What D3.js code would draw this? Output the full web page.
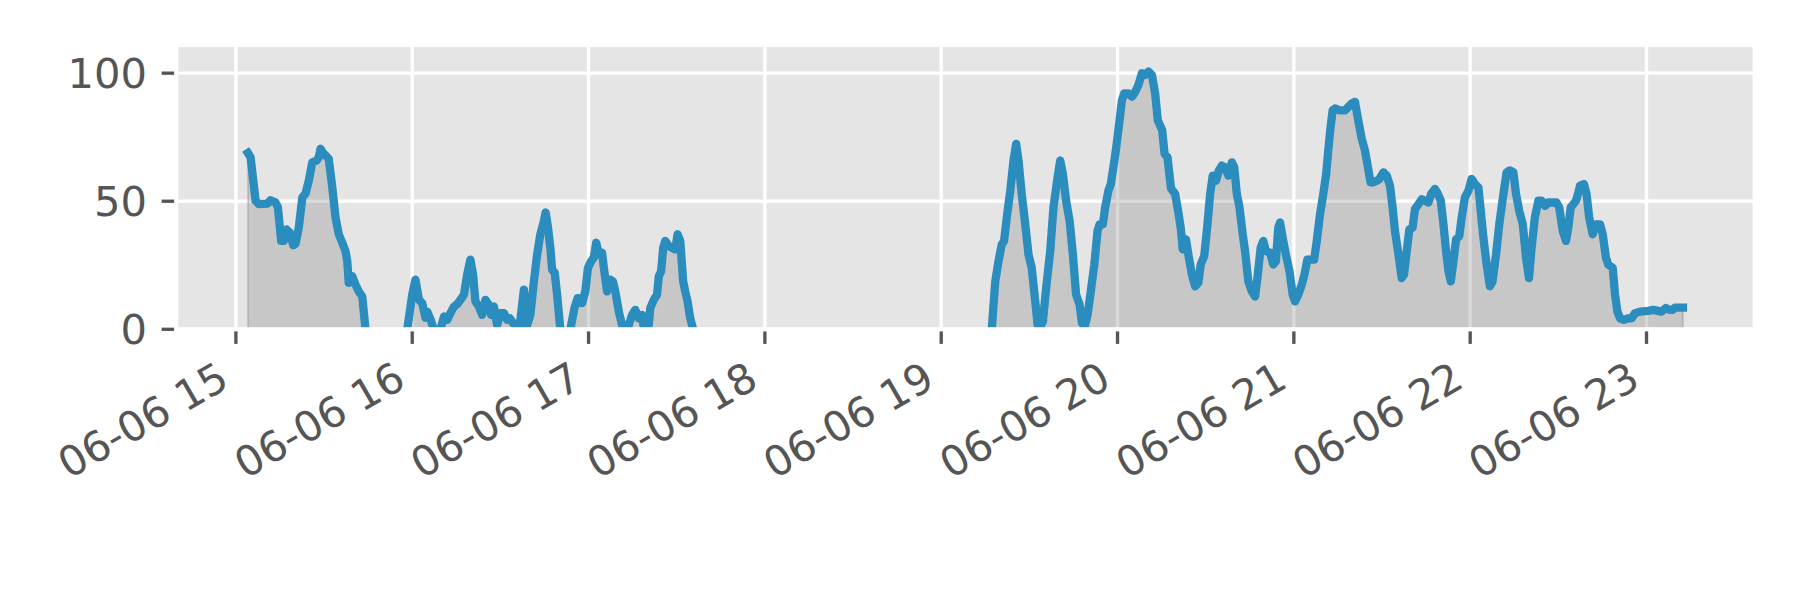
<!DOCTYPE html>
<html><head><meta charset="utf-8">
<script src="https://cdn.jsdelivr.net/npm/d3@7"></script>
<style>body{margin:0;background:#fff} svg{display:block}</style>
</head><body>
<svg id="chart" width="1800" height="600"></svg>
<script>
// Start of the time axis; sample times are minutes after it (null value = no data)
const startTime = "2019-06-06T15:00:00";
const minutes = [
  4.1, 5.0, 6.7, 7.8, 10.7, 11.8, 13.5, 14.3, 15.4, 16.3, 17.2, 18.4, 19.5, 20.3, 21.4, 22.6, 23.7, 24.8, 26.0, 27.5,
  28.2, 28.8, 29.7, 30.5, 31.6, 32.8, 33.9, 35.0, 36.2, 37.3, 37.9, 38.4, 39.6, 40.7, 41.8, 43.0, 44.1,
  51.0,
  58.3, 60.0, 61.1, 62.3, 63.4, 64.5, 65.1, 66.2, 67.3,
  68.5,
  69.6, 70.8, 71.9, 73.0, 74.2, 75.3, 76.4, 77.6, 78.7, 79.8, 80.7, 81.5, 82.7, 83.8, 84.9, 86.1, 86.9, 87.8, 88.9, 90.0,
  91.2, 92.3, 93.2, 94.3, 95.7, 96.6, 98.0, 99.1, 100.2, 101.4, 102.5, 103.6, 104.8, 105.4, 106.2, 107.0, 107.6, 108.5, 109.3, 110.4,
  112.0,
  113.8, 115.2, 116.3, 117.8, 118.9, 119.8, 120.9, 121.8, 122.6, 123.5, 124.6, 125.2, 126.3, 127.4, 128.3, 129.1, 130.3, 131.4, 132.3,
  132.7,
  133.2, 133.7, 134.8, 135.9, 137.1, 138.2, 138.9,
  139.3,
  139.8, 140.5, 141.0, 142.2, 143.3, 143.9, 144.7, 145.4, 146.1, 147.3, 148.4, 149.5, 150.3, 151.2, 152.2, 152.9, 153.7, 154.6, 155.6,
  200.0,
  257.2, 258.4, 259.5, 260.6, 261.4, 262.3, 263.5, 264.6, 265.5, 266.3, 267.4, 268.6, 269.7, 270.8, 272.0, 272.8, 273.7, 274.6, 275.7,
  277.1, 278.2, 279.6, 280.5, 281.4, 282.5, 283.7, 284.8, 285.9, 287.1, 287.9, 288.8, 289.8, 290.9, 292.1, 293.2, 293.9, 295.0, 295.8,
  296.9, 297.7, 298.6, 299.5, 300.7, 301.5, 302.3, 303.7, 304.9, 306.0, 307.1, 308.3, 309.4, 310.5, 311.7, 312.8, 313.7, 315.2, 316.0,
  317.0, 318.2, 319.6, 320.7, 321.5, 322.2, 323.3, 324.1, 325.3, 326.4, 327.5, 328.3, 329.5, 330.6, 331.5, 332.4, 333.5, 334.5, 335.5,
  336.6, 337.7, 338.9, 339.7, 340.6, 341.5, 342.6, 343.4, 344.5, 345.7, 346.8, 347.6, 348.7, 349.6, 350.5, 351.9, 353.0, 353.9, 354.7,
  355.3, 356.2, 357.3, 358.5, 359.6, 360.4, 361.5, 362.7, 363.6, 364.6, 366.9, 367.8, 368.9, 370.0, 371.0, 371.7, 372.5, 373.2, 374.0,
  375.7, 377.4, 378.6, 379.7, 380.8, 382.0, 383.1, 384.2, 385.4, 386.1, 387.1, 388.2, 389.1, 390.5, 391.6, 392.7, 393.6, 394.4, 395.6,
  396.7, 397.5, 398.4, 399.3, 400.4, 401.2, 402.4, 403.5, 404.6, 405.8, 406.7, 408.0, 408.8, 410.0, 410.9, 411.8, 412.6, 413.4, 414.3,
  415.2, 416.3, 417.1, 418.2, 419.4, 420.5, 421.6, 422.8, 423.6, 424.5, 425.6, 426.7, 427.6, 428.8, 429.9, 431.3, 432.4, 433.5, 434.7,
  435.6, 436.7, 437.9, 439.0, 440.0, 440.9, 442.0, 443.2, 444.3, 445.5, 446.6, 449.4, 450.3, 451.5, 452.6, 453.4, 454.2, 455.1, 456.0,
  456.8, 457.4, 458.7, 459.6, 460.5, 461.7, 462.8, 464.2, 465.1, 466.2, 467.0, 468.5, 469.3, 470.1, 471.0, 472.3, 473.8, 474.9, 476.1,
  477.8, 480.6, 482.3, 484.0, 485.1, 486.6, 487.8, 488.9, 489.7, 492.4
];
const values = [
  68.8, 67.2, 50.2, 48.9, 49.1, 50.4, 49.5, 47.6, 34.5, 34.5, 39.0, 37.7, 32.8, 33.4, 39.7, 51.5, 53.0, 58.0, 65.2, 65.9,
  67.2, 70.5, 68.8, 67.9, 66.5, 55.4, 43.6, 37.1, 33.8, 30.5, 26.6, 18.1, 20.7, 17.4, 14.8, 12.8, 0,
  null,
  0, 13.5, 19.4, 11.5, 10.2, 4.5, 6.9, 4.0, 0,
  null,
  0, 5.0, 3.7, 6.3, 8.9, 9.8, 11.5, 13.5, 21.4, 27.2, 21.4, 10.9, 8.9, 5.6, 11.5, 9.5, 5.6, 8.9, 1.7, 6.3,
  6.3, 3.7, 4.3, 2.4, 1.7, 1.7, 15.5, 1.7, 5.6, 18.7, 29.2, 37.1, 42.3, 45.6, 39.7, 31.8, 23.3, 22.0, 13.5, 0,
  null,
  0, 8.3, 12.2, 10.2, 14.8, 24.0, 26.6, 28.0, 33.8, 29.2, 29.9, 24.0, 14.8, 19.4, 18.7, 14.8, 6.9, 1.7, 0,
  null,
  0, 1.7, 5.6, 7.6, 4.3, 5.6, 0,
  null,
  0, 1.7, 8.3, 11.5, 13.5, 20.7, 22.7, 31.8, 34.5, 32.5, 31.8, 31.2, 37.1, 34.5, 18.7, 14.8, 10.9, 4.3, 0,
  null,
  0, 18.7, 26.6, 33.1, 34.5, 43.6, 54.1, 65.9, 72.4, 65.9, 52.8, 41.0, 29.2, 24.0, 10.9, 1.7, 1.0, 3.0, 16.1,
  30.5, 47.6, 59.3, 65.9, 60.7, 50.2, 42.3, 29.2, 13.5, 9.6, 2.4, 1.0, 5.6, 14.8, 25.3, 38.4, 41.0, 41.0, 47.6,
  54.1, 56.7, 63.3, 70.5, 81.6, 89.5, 92.1, 92.1, 90.8, 92.7, 95.4, 100.0, 99.3, 100.6, 99.3, 92.1, 81.6, 77.7, 68.5,
  67.2, 55.0, 52.8, 45.6, 39.7, 31.2, 35.1, 29.2, 21.4, 16.8, 18.1, 25.3, 28.6, 41.0, 52.8, 60.0, 58.0, 62.0, 63.9,
  63.3, 60.0, 65.2, 63.3, 52.8, 47.6, 37.1, 30.5, 18.7, 14.8, 12.8, 20.0, 31.8, 34.5, 30.5, 29.9, 25.3, 26.6, 39.7,
  41.7, 35.8, 29.2, 22.7, 13.5, 10.9, 13.5, 17.4, 21.4, 27.2, 27.2, 34.5, 44.9, 52.8, 60.7, 69.8, 79.0, 85.5, 86.2,
  85.5, 85.5, 86.9, 88.2, 88.8, 81.0, 74.4, 69.8, 62.0, 57.4, 57.4, 58.0, 58.7, 61.3, 60.0, 56.1, 47.6, 38.4, 29.2,
  20.0, 21.4, 30.5, 39.0, 39.7, 46.9, 48.9, 50.8, 50.2, 49.5, 52.8, 54.8, 53.4, 50.2, 41.0, 30.5, 22.7, 18.7, 26.6,
  35.1, 36.4, 43.6, 51.5, 54.1, 58.7, 56.7, 55.4, 46.2, 35.8, 25.3, 16.8, 18.7, 29.2, 41.0, 52.8, 61.3, 62.0, 61.3,
  52.8, 46.2, 41.0, 27.9, 20.0, 31.8, 43.6, 50.2, 50.2, 48.2, 49.5, 49.5, 47.6, 38.4, 34.5, 39.7, 47.6, 48.9, 50.2,
  53.4, 56.1, 56.7, 52.8, 43.6, 37.1, 41.0, 41.0, 37.1, 27.9, 25.3, 24.0, 13.5, 6.9, 4.3, 3.7, 4.3, 4.3, 6.3,
  6.9, 7.2, 7.6, 7.2, 6.9, 8.3, 7.6, 7.6, 8.5, 8.5
];
const yTickValues = [0, 50, 100];
const yMax = 111;
const xTickFormat = "%m-%d %H";

const W = 1800, H = 600;
const plot = {left: 176.2, right: 1754.7, top: 45, bottom: 329.3};
const FS = 41.67;             // 10pt at 300 dpi
const TICK = 14.58, PAD = 14.58;
const textColor = "#555555";

const t0 = new Date(startTime);
const data = minutes.map((m, i) => ({t: new Date(t0.getTime() + m * 60000), v: values[i]}));
const defined = data.filter(d => d.v !== null);
const [tMin, tMax] = d3.extent(defined, d => d.t);
const span = tMax - tMin;
const x = d3.scaleTime()
  .domain([new Date(+tMin - 0.05 * span), new Date(+tMax + 0.05 * span)])
  .range([plot.left, plot.right]);
const y = d3.scaleLinear().domain([0, yMax]).range([plot.bottom, plot.top]);

const svg = d3.select("#chart");
svg.append("rect").attr("width", W).attr("height", H).attr("fill", "#ffffff");

svg.append("defs").append("clipPath").attr("id", "clip")
  .append("rect").attr("x", plot.left).attr("y", plot.top)
  .attr("width", plot.right - plot.left).attr("height", plot.bottom - plot.top);

svg.append("rect").attr("x", plot.left).attr("y", plot.top)
  .attr("width", plot.right - plot.left).attr("height", plot.bottom - plot.top)
  .attr("fill", "#E5E5E5");

const xTicks = x.ticks(d3.timeHour.every(1));
const grid = svg.append("g").attr("stroke", "#ffffff").attr("stroke-width", 3.33);
grid.selectAll(".gx").data(xTicks).join("line")
  .attr("x1", d => x(d)).attr("x2", d => x(d)).attr("y1", plot.top).attr("y2", plot.bottom);
grid.selectAll(".gy").data(yTickValues).join("line")
  .attr("x1", plot.left).attr("x2", plot.right).attr("y1", d => y(d)).attr("y2", d => y(d));

const g = svg.append("g").attr("clip-path", "url(#clip)");
const area = d3.area().defined(d => d.v !== null).x(d => x(d.t)).y0(y(0)).y1(d => y(d.v));
g.append("path").datum(data).attr("d", area)
  .attr("fill", "#808080").attr("fill-opacity", 0.3)
  .attr("stroke", "#808080").attr("stroke-opacity", 0.3).attr("stroke-width", 2.08);
const line = d3.line().defined(d => d.v !== null).x(d => x(d.t)).y(d => y(d.v));
g.append("path").datum(data).attr("d", line)
  .attr("fill", "none").attr("stroke", "#2b8cbe").attr("stroke-width", 8.3)
  .attr("stroke-linejoin", "round").attr("stroke-linecap", "square");

// ticks
const ticks = svg.append("g").attr("stroke", textColor).attr("stroke-width", 3.33);
ticks.selectAll(".tx").data(xTicks).join("line")
  .attr("x1", d => x(d)).attr("x2", d => x(d)).attr("y1", plot.bottom).attr("y2", plot.bottom + TICK);
ticks.selectAll(".ty").data(yTickValues).join("line")
  .attr("x1", plot.left - TICK).attr("x2", plot.left).attr("y1", d => y(d)).attr("y2", d => y(d));

// white spines (ggplot style)
svg.append("rect").attr("x", plot.left).attr("y", plot.top)
  .attr("width", plot.right - plot.left).attr("height", plot.bottom - plot.top)
  .attr("fill", "none").attr("stroke", "#ffffff").attr("stroke-width", 4.17);

const fmt = d3.timeFormat(xTickFormat);
const asc = 0.76 * FS, desc = 0.22 * FS;
const xl = svg.append("g").attr("font-family", "DejaVu Sans").attr("font-size", FS).attr("fill", textColor);
xl.selectAll("text").data(xTicks).join("text")
  .attr("text-anchor", "end")
  .attr("transform", d => {
    const ax = x(d) - 0.5 * desc;
    const ay = plot.bottom + TICK + PAD + 0.866 * asc;
    return `translate(${ax},${ay}) rotate(-30)`;
  })
  .text(d => fmt(d));

const yl = svg.append("g").attr("font-family", "DejaVu Sans").attr("font-size", FS).attr("fill", textColor);
yl.selectAll("text").data(yTickValues).join("text")
  .attr("text-anchor", "end")
  .attr("x", plot.left - TICK - PAD)
  .attr("y", d => y(d) + 0.36 * FS)
  .text(d => d);
</script>
</body></html>
